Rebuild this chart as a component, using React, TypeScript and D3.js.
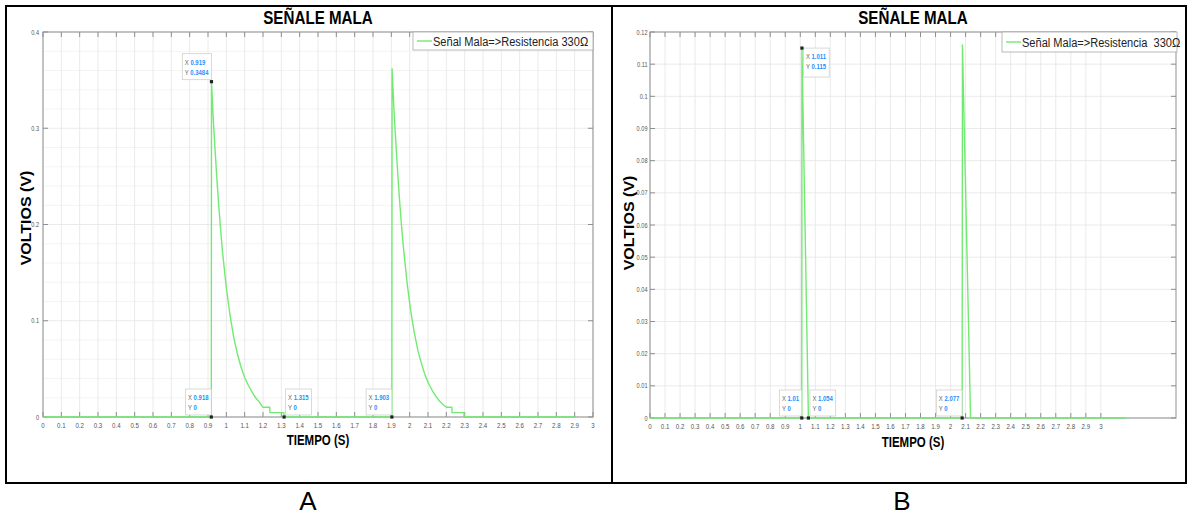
import React from "react";
import * as d3 from "d3";

// ---------- DATA ----------
const A_TIME = [0, 0.918, 0.919, 0.93, 0.94, 0.95, 0.96, 0.97, 0.98, 1.0, 1.02, 1.04, 1.06, 1.08, 1.1, 1.12, 1.14, 1.16, 1.18, 1.2, 1.237, 1.238, 1.314, 1.315,
  1.903, 1.904, 1.915, 1.925, 1.935, 1.945, 1.955, 1.965, 1.985, 2.005, 2.025, 2.045, 2.065, 2.085, 2.105, 2.125, 2.145, 2.165, 2.185, 2.2, 2.23, 2.231, 2.296, 2.297, 2.9];
const A_VOLT = [0, 0, 0.3484, 0.305, 0.273, 0.243, 0.216, 0.192, 0.17, 0.134, 0.106, 0.083, 0.066, 0.052, 0.041, 0.033, 0.026, 0.02, 0.0155, 0.0101, 0.0101, 0.0045, 0.0045, 0,
  0, 0.362, 0.317, 0.284, 0.253, 0.225, 0.2, 0.178, 0.141, 0.111, 0.088, 0.069, 0.055, 0.043, 0.034, 0.027, 0.021, 0.016, 0.0125, 0.0101, 0.0101, 0.0045, 0.0045, 0, 0];

const B_TIME = [0, 1.01, 1.011, 1.054, 2.077, 2.079, 2.133, 3.17];
const B_VOLT = [0, 0, 0.115, 0, 0, 0.116, 0, 0];

const A_XTICKS = [0, 0.1, 0.2, 0.3, 0.4, 0.5, 0.6, 0.7, 0.8, 0.9, 1, 1.1, 1.2, 1.3, 1.4, 1.5, 1.6, 1.7, 1.8, 1.9, 2, 2.1, 2.2, 2.3, 2.4, 2.5, 2.6, 2.7, 2.8, 2.9, 3];
const A_YTICKS = [0, 0.1, 0.2, 0.3, 0.4];
const A_YMINOR = [0.02, 0.04, 0.06, 0.08, 0.12, 0.14, 0.16, 0.18, 0.22, 0.24, 0.26, 0.28, 0.32, 0.34, 0.36, 0.38];
const B_XTICKS = [0, 0.1, 0.2, 0.3, 0.4, 0.5, 0.6, 0.7, 0.8, 0.9, 1, 1.1, 1.2, 1.3, 1.4, 1.5, 1.6, 1.7, 1.8, 1.9, 2, 2.1, 2.2, 2.3, 2.4, 2.5, 2.6, 2.7, 2.8, 2.9, 3];
const B_YTICKS = [0, 0.01, 0.02, 0.03, 0.04, 0.05, 0.06, 0.07, 0.08, 0.09, 0.1, 0.11, 0.12];

const A_TIP_X = [0.919, 0.918, 1.315, 1.903];
const A_TIP_Y = [0.3484, 0, 0, 0];
const A_TIP_XL = ["0.919", "0.918", "1.315", "1.903"];
const A_TIP_YL = ["0.3484", "0", "0", "0"];
const B_TIP_X = [1.011, 1.01, 1.054, 2.077];
const B_TIP_Y = [0.115, 0, 0, 0];
const B_TIP_XL = ["1.011", "1.01", "1.054", "2.077"];
const B_TIP_YL = ["0.115", "0", "0", "0"];

const TITLE = "SEÑALE MALA";
const XLABEL = "TIEMPO (S)";
const YLABEL = "VOLTIOS (V)";
const LEGEND_A = "Señal Mala=>Resistencia 330Ω";
const LEGEND_B = "Señal Mala=>Resistencia  330Ω";

// ---------- STYLE ----------
const FONT = "'Liberation Sans', Arial, sans-serif";
const SQ = 0.82;
const GREEN = "#72ea72";
const AXIS = "#8f8f8f";

type Tip = { x: number; y: number; xl: string; yl: string; place: string };

type PanelCfg = {
  left: number; right: number; top: number; bottom: number;
  xDomain: [number, number]; yDomain: [number, number];
  xTicks: number[]; yTicks: number[]; yMinor: number[];
  time: number[]; volt: number[];
  tips: Tip[];
  legend: string; legendBox: [number, number, number, number];
  titleY: number; xLabelY: number; yLabelX: number; yLabelY: number;
  yTickGap: number;
  panelLetter: string; letterX: number;
};

function SqText(props: { x: number; y: number; size: number; anchor?: string; weight?: string | number; fill?: string; sx?: number; children: React.ReactNode; pre?: boolean }) {
  const { x, y, size, anchor = "start", weight = "normal", fill = "#000", sx = SQ, children, pre } = props;
  return (
    <text transform={`translate(${x},${y}) scale(${sx},1)`} fontFamily={FONT} fontSize={size} fontWeight={weight}
      textAnchor={anchor} fill={fill} style={pre ? { whiteSpace: "pre" } : undefined}>
      {children}
    </text>
  );
}

function Panel({ c }: { c: PanelCfg }) {
  const x = d3.scaleLinear().domain(c.xDomain).range([c.left, c.right]);
  const y = d3.scaleLinear().domain(c.yDomain).range([c.bottom, c.top]);
  const pts: [number, number][] = c.time.map((t, i) => [t, c.volt[i]]);
  const line = d3.line<[number, number]>().x(d => x(d[0])).y(d => y(d[1]));
  const fmt = (v: number) => String(+v.toFixed(3));
  const cx = (c.left + c.right) / 2;
  const [lx0, ly0, lx1, ly1] = c.legendBox;
  return (
    <g>
      {/* grid */}
      {c.yMinor.map((v, i) => (
        <line key={"ym" + i} x1={c.left} x2={c.right} y1={y(v)} y2={y(v)} stroke="#f1f1f1" strokeWidth={0.8} />
      ))}
      {c.xTicks.map((v, i) => (
        <line key={"gx" + i} x1={x(v)} x2={x(v)} y1={c.top} y2={c.bottom} stroke="#e4e4e4" strokeWidth={0.8} />
      ))}
      {c.yTicks.map((v, i) => (
        <line key={"gy" + i} x1={c.left} x2={c.right} y1={y(v)} y2={y(v)} stroke="#e4e4e4" strokeWidth={0.8} />
      ))}
      {/* box */}
      <rect x={c.left} y={c.top} width={c.right - c.left} height={c.bottom - c.top} fill="none" stroke={AXIS} strokeWidth={1} />
      {/* ticks */}
      {c.xTicks.map((v, i) => (
        <g key={"tx" + i}>
          <line x1={x(v)} x2={x(v)} y1={c.bottom} y2={c.bottom - 5} stroke={AXIS} />
          <line x1={x(v)} x2={x(v)} y1={c.top} y2={c.top + 5} stroke={AXIS} />
          <SqText x={x(v)} y={c.bottom + 10.5} size={7.5} anchor="middle" fill="#555" sx={0.82}>{fmt(v)}</SqText>
        </g>
      ))}
      {c.yTicks.map((v, i) => (
        <g key={"ty" + i}>
          <line x1={c.left} x2={c.left + 5} y1={y(v)} y2={y(v)} stroke={AXIS} />
          <line x1={c.right} x2={c.right - 5} y1={y(v)} y2={y(v)} stroke={AXIS} />
          <SqText x={c.left - c.yTickGap} y={y(v) + 2.5} size={7} anchor="end" fill="#555" sx={0.8}>{fmt(v)}</SqText>
        </g>
      ))}
      {/* data */}
      <path d={line(pts) || ""} fill="none" stroke={GREEN} strokeWidth={1.4} strokeLinejoin="round" />
      {/* datatips */}
      {c.tips.map((t, i) => {
        const mx = x(t.x), my = y(t.y);
        const len = Math.max(t.xl.length, t.yl.length) + 2;
        const w = 2 + len * 3.4;
        const h = t.place === "r" ? 29 : 26;
        let bx = mx - w, by = my - 2 - h;
        if (t.place === "ur") { bx = mx + 1.5; }
        if (t.place === "r") { bx = mx + 1.5; by = my; }
        return (
          <g key={"tip" + i}>
            <rect x={bx} y={by} width={w} height={h} fill="#ffffff" fillOpacity={0.92} stroke="#d0d0d0" strokeWidth={0.8} />
            <SqText x={bx + 2.5} y={by + 11} size={7} fill="#666" sx={0.85}>
              <tspan>X </tspan><tspan fill="#1f8fff" fontWeight="bold">{t.xl}</tspan>
            </SqText>
            <SqText x={bx + 2.5} y={by + 21} size={7} fill="#666" sx={0.85}>
              <tspan>Y </tspan><tspan fill="#1f8fff" fontWeight="bold">{t.yl}</tspan>
            </SqText>
            <rect x={mx - 1.6} y={my - 1.6} width={3.2} height={3.2} fill="#222" />
          </g>
        );
      })}
      {/* legend */}
      <rect x={lx0} y={ly0} width={lx1 - lx0} height={ly1 - ly0} fill="#fff" stroke="#a8a8a8" strokeWidth={0.8} />
      <line x1={lx0 + 4} x2={lx0 + 19} y1={(ly0 + ly1) / 2} y2={(ly0 + ly1) / 2} stroke={GREEN} strokeWidth={1.4} />
      <SqText x={lx0 + 20} y={(ly0 + ly1) / 2 + 5} size={13.5} fill="#222" pre>{c.legend}</SqText>
      {/* labels */}
      <SqText x={cx} y={c.titleY} size={18.5} anchor="middle" weight="bold">{TITLE}</SqText>
      <SqText x={cx} y={c.xLabelY} size={14} anchor="middle" weight="bold">{XLABEL}</SqText>
      <text transform={`translate(${c.yLabelX},${c.yLabelY}) rotate(-90) scale(1,0.92)`} fontFamily={FONT} fontSize={16}
        fontWeight="bold" textAnchor="middle">{YLABEL}</text>
      <text x={c.letterX} y={510} fontFamily={FONT} fontSize={26} textAnchor="middle">{c.panelLetter}</text>
    </g>
  );
}

function makeTips(xs: number[], ys: number[], xl: string[], yl: string[], place: string[]): Tip[] {
  return xs.map((v, i) => ({ x: v, y: ys[i], xl: xl[i], yl: yl[i], place: place[i] }));
}

export default function App() {
  const panelA: PanelCfg = {
    left: 43, right: 593, top: 32, bottom: 417,
    xDomain: [0, 3], yDomain: [0, 0.4],
    xTicks: A_XTICKS, yTicks: A_YTICKS, yMinor: A_YMINOR,
    time: A_TIME, volt: A_VOLT,
    tips: makeTips(A_TIP_X, A_TIP_Y, A_TIP_XL, A_TIP_YL, ["ul", "ul", "ur", "ul"]),
    legend: LEGEND_A, legendBox: [413, 32, 593, 50],
    titleY: 24, xLabelY: 445, yLabelX: 31, yLabelY: 218, yTickGap: 4,
    panelLetter: "A", letterX: 308,
  };
  const panelB: PanelCfg = {
    left: 650, right: 1176, top: 32, bottom: 418,
    xDomain: [0, 3.5], yDomain: [0, 0.12],
    xTicks: B_XTICKS, yTicks: B_YTICKS, yMinor: [],
    time: B_TIME, volt: B_VOLT,
    tips: makeTips(B_TIP_X, B_TIP_Y, B_TIP_XL, B_TIP_YL, ["r", "ul", "ur", "ul"]),
    legend: LEGEND_B, legendBox: [1002, 32, 1177, 52],
    titleY: 24, xLabelY: 447, yLabelX: 634, yLabelY: 223, yTickGap: 2.5,
    panelLetter: "B", letterX: 902,
  };
  return (
    <svg width={1192} height={516} style={{ position: "absolute", left: 0, top: 0, background: "#fff" }}>
      <rect x={0} y={0} width={1192} height={516} fill="#fff" />
      <Panel c={panelA} />
      <Panel c={panelB} />
      {/* table frame */}
      <rect x={6} y={6} width={1180} height={477} fill="none" stroke="#000" strokeWidth={2} />
      <line x1={612} x2={612} y1={6} y2={483} stroke="#000" strokeWidth={2} />
    </svg>
  );
}
